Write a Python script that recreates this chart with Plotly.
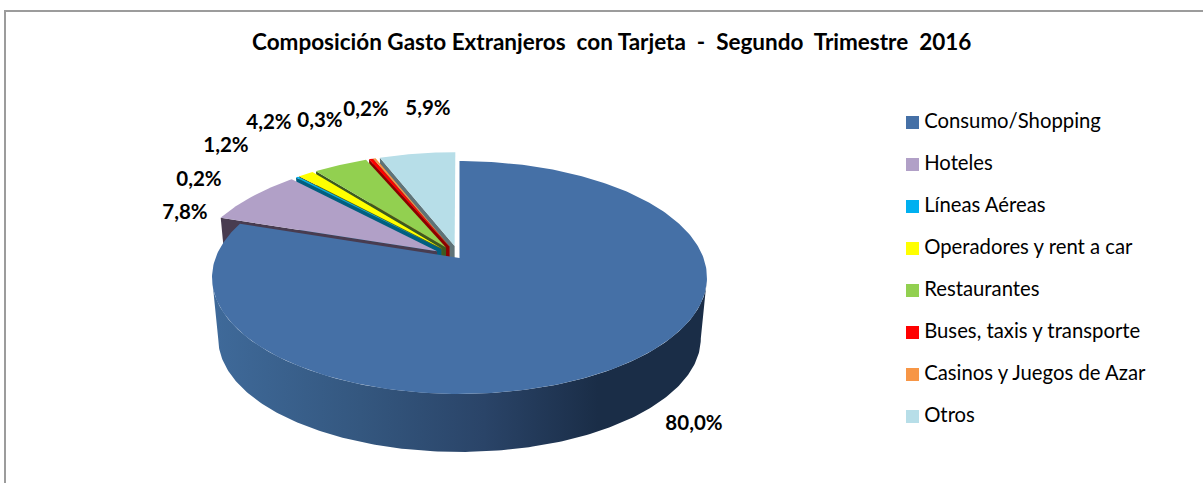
import numpy as np
import plotly.graph_objects as go

title = "Composición Gasto Extranjeros  con Tarjeta  -  Segundo  Trimestre  2016"
categories = ["Consumo/Shopping", "Hoteles", "Líneas Aéreas", "Operadores y rent a car",
              "Restaurantes", "Buses, taxis y transporte", "Casinos y Juegos de Azar", "Otros"]
values = [80.0, 7.8, 0.2, 1.2, 4.2, 0.3, 0.2, 5.9]
colors = ["#4570A6", "#B1A0C7", "#00B0F0", "#FFFF00", "#92D050", "#FF0000", "#F79646", "#B7DEE8"]
wall_colors = ["#2A4468", "#483C50", "#005F80", "#5A5A10", "#3C5A20", "#8B0000", "#8A5030", "#5F7378"]
label_xy = [(694, 425), (185, 214), (199, 181), (226, 147), (269, 124), (320, 122), (366, 111), (428, 110)]

FONT = "Lato, Carlito, sans-serif"
CX, CY, R, S, K = 459.5, 258.0, 244.0, 113.2, 0.1674
DEPTH, SHRINK, EXPLODE = 61.4, 0.975, 0.11


def project(u, v, bottom=False):
    w = 1 + K * v
    s = SHRINK if bottom else 1.0
    return CX + s * R * u / w, CY - s * S * v / w + (DEPTH if bottom else 0.0)


def fill(xs, ys, color, **kw):
    return go.Scatter(x=list(xs), y=list(ys), mode="lines", fill="toself", fillcolor=color,
                      line=dict(width=0), hoverinfo="skip", showlegend=False, **kw)


total = sum(values)
edges = np.concatenate([[0.0], np.cumsum(values)]) / total * 2 * np.pi
traces = []

# Back slices first (painter's order), the big front slice last.
for i in range(len(values) - 1, 0, -1):
    a, b = edges[i], edges[i + 1]
    mid = (a + b) / 2
    ou, ov = EXPLODE * np.sin(mid), EXPLODE * np.cos(mid)
    tx0, ty0 = project(ou, ov)
    tx1, ty1 = project(ou + np.sin(a), ov + np.cos(a))
    bx0, by0 = project(ou, ov, True)
    bx1, by1 = project(ou + np.sin(a), ov + np.cos(a), True)
    traces.append(fill([tx0, tx1, bx1, bx0, tx0], [ty0, ty1, by1, by0, ty0], wall_colors[i]))
    th = np.linspace(a, b, 40)
    px, py = project(ou + np.sin(th), ov + np.cos(th))
    traces.append(fill([tx0, *px, tx0], [ty0, *py, ty0], colors[i], name=categories[i]))

# Big slice: rim with a horizontal gradient, then the top face.
t_r = np.pi - np.arccos(K)
t_l = 2 * np.pi - t_r
th = np.linspace(t_r, t_l, 200)
xt, yt = project(np.sin(th), np.cos(th))
xb, yb = project(np.sin(th), np.cos(th), True)
traces.append(go.Scatter(
    x=[*xt, *xb[::-1], xt[0]], y=[*yt, *yb[::-1], yt[0]], mode="lines", fill="toself",
    fillgradient=dict(type="horizontal",
                      colorscale=[[0, "#3F6A9A"], [0.3, "#34577F"], [0.55, "#2A4468"],
                                  [0.78, "#1A2D47"], [1, "#1A2D47"]]),
    line=dict(width=0), hoverinfo="skip", showlegend=False))
th = np.linspace(edges[0], edges[1], 300)
px, py = project(np.sin(th), np.cos(th))
traces.append(fill([CX, *px, CX], [CY, *py, CY], colors[0], name=categories[0]))

# Data labels
traces.append(go.Scatter(
    x=[p[0] for p in label_xy], y=[p[1] for p in label_xy], mode="text",
    text=[f"{v:.1f}%".replace(".", ",") for v in values],
    textposition="middle center", textfont=dict(family=FONT, size=20.5, color="#000000"),
    texttemplate="<b>%{text}</b>", hoverinfo="skip", showlegend=False))

# Legend column
LEG_X, LEG_Y, LEG_STEP = 912.5, 122.5, 42
for i, name in enumerate(categories):
    traces.append(go.Scatter(
        x=[LEG_X], y=[LEG_Y + i * LEG_STEP], mode="markers+text", text=["\u2009" + name],
        textposition="middle right", textfont=dict(family=FONT, size=20.3, color="#000000"),
        marker=dict(symbol="square", size=13, color=colors[i]),
        hoverinfo="skip", showlegend=False))

fig = go.Figure(traces)
fig.update_layout(
    width=1203, height=483, margin=dict(l=0, r=0, t=0, b=0),
    paper_bgcolor="#FFFFFF", plot_bgcolor="#FFFFFF", showlegend=False,
    xaxis=dict(range=[0, 1203], visible=False),
    yaxis=dict(range=[483, 0], visible=False),
    shapes=[dict(type="rect", xref="x", yref="y", x0=5, y0=11, x1=1300, y1=600,
                 line=dict(color="#9C9C9C", width=2), fillcolor="rgba(0,0,0,0)")],
    annotations=[dict(text=f"<b>{title}</b>", x=611, y=41.5, xref="x", yref="y", showarrow=False,
                      font=dict(family=FONT, size=22.5, color="#000000"))],
)
fig.write_html("out.html", config={"displayModeBar": False},
               post_script="document.body.style.margin='0';document.body.style.overflow='hidden';")
